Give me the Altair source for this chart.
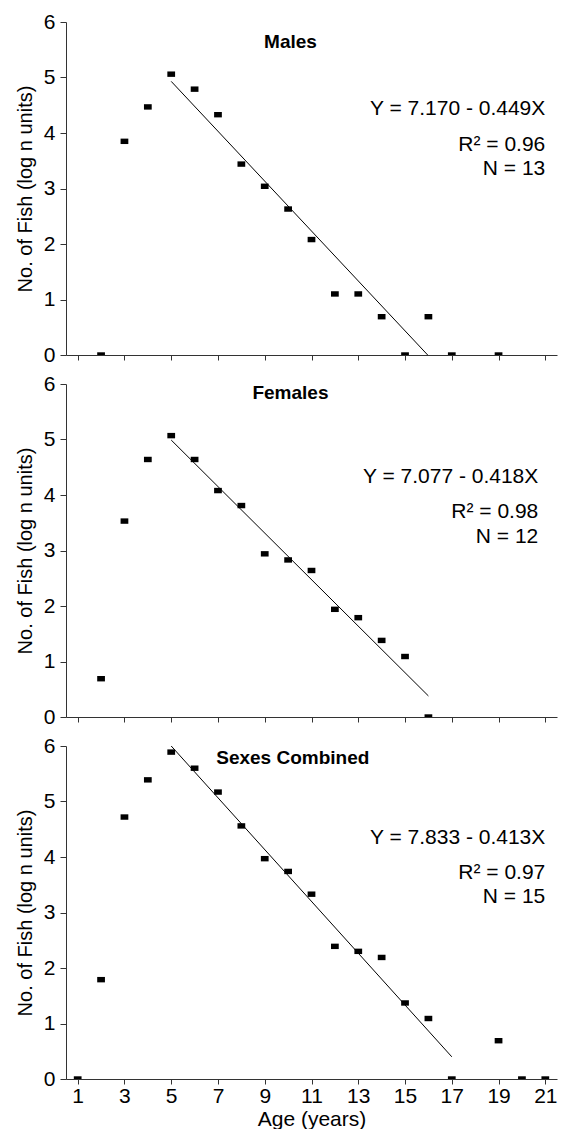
import altair as alt
import pandas as pd

# ---------------- data ----------------
male_ages = [2, 3, 4, 5, 6, 7, 8, 9, 10, 11, 12, 13, 14, 15, 16, 17, 19]
male_vals = [0, 3.85, 4.47, 5.06, 4.79, 4.33, 3.44, 3.04, 2.63, 2.08, 1.10, 1.10, 0.69, 0, 0.69, 0, 0]

female_ages = [2, 3, 4, 5, 6, 7, 8, 9, 10, 11, 12, 13, 14, 15, 16]
female_vals = [0.69, 3.53, 4.64, 5.07, 4.64, 4.08, 3.81, 2.94, 2.83, 2.64, 1.94, 1.79, 1.38, 1.09, 0]

comb_ages = [1, 2, 3, 4, 5, 6, 7, 8, 9, 10, 11, 12, 13, 14, 15, 16, 17, 19, 20, 21]
comb_vals = [0, 1.79, 4.72, 5.39, 5.89, 5.60, 5.17, 4.56, 3.97, 3.74, 3.33, 2.39, 2.30, 2.19, 1.37, 1.09, 0, 0.69, 0, 0]

# regression lines as drawn (start/end age, start/end value)
male_fit_x = [5, 15.97]
male_fit_y = [4.93, 0.0]
female_fit_x = [5, 16]
female_fit_y = [4.99, 0.38]
comb_fit_x = [5, 17]
comb_fit_y = [6.0, 0.40]

panel_titles = ["Males", "Females", "Sexes Combined"]
equations = ["Y = 7.170 - 0.449X", "Y = 7.077 - 0.418X", "Y = 7.833 - 0.413X"]
r2_texts = ["R\u00b2 = 0.96", "R\u00b2 = 0.98", "R\u00b2 = 0.97"]
n_texts = ["N = 13", "N = 12", "N = 15"]

x_ticks = list(range(1, 22))
y_ticks = [0, 1, 2, 3, 4, 5, 6]

# ---------------- layout (annotation anchors in data units) ----------------
title_x = [10.1, 10.1, 10.2]
title_y = [5.64, 5.83, 5.79]
stat_x = [21.0, 20.7, 21.0]
stat_y = [[4.44, 3.78, 3.35], [4.33, 3.70, 3.25], [4.35, 3.72, 3.28]]

FONT = "Liberation Sans"
W, H = 491, 333
XDOM = [0.5, 21.5]
YDOM = [0, 6]

square = "M-1,-0.7L1,-0.7L1,0.7L-1,0.7Z"


def panel(i, ages, vals, fx, fy, bottom):
    pts = pd.DataFrame({"age": ages, "val": vals})
    fit = pd.DataFrame({"age": fx, "val": fy})
    xaxis = alt.Axis(
        values=x_ticks,
        labels=bottom,
        labelExpr="datum.value % 2 == 1 ? datum.label : ''",
        title="Age (years)" if bottom else None,
        grid=False,
        tickSize=5,
        tickColor="#333",
        domainColor="#333",
        labelFontSize=21,
        labelFont=FONT,
        labelColor="black",
        labelPadding=1,
        titleFont=FONT,
        titleFontSize=21,
        titleFontWeight="normal",
        titleColor="black",
        titlePadding=2,
    )
    yaxis = alt.Axis(
        values=y_ticks,
        format="d",
        title="No. of Fish  (log n units)",
        grid=False,
        tickSize=6,
        tickColor="#333",
        domainColor="#333",
        labelFontSize=21,
        labelFont=FONT,
        labelColor="black",
        labelPadding=5,
        titleFont=FONT,
        titleFontSize=20,
        titleFontWeight="normal",
        titleColor="black",
        titlePadding=8,
    )
    xs = alt.Scale(domain=XDOM, nice=False, zero=False)
    ys = alt.Scale(domain=YDOM, nice=False)

    points = alt.Chart(pts).mark_point(
        shape=square, filled=True, color="black", size=60, opacity=1, clip=True
    ).encode(
        x=alt.X("age:Q", scale=xs, axis=xaxis),
        y=alt.Y("val:Q", scale=ys, axis=yaxis),
    )
    line = alt.Chart(fit).mark_line(color="black", strokeWidth=1).encode(
        x=alt.X("age:Q", scale=xs),
        y=alt.Y("val:Q", scale=ys),
    )
    tdf = pd.DataFrame({"age": [title_x[i]], "val": [title_y[i]], "t": [panel_titles[i]]})
    title = alt.Chart(tdf).mark_text(
        font=FONT, fontSize=19, fontWeight="bold", color="black", align="center", baseline="middle"
    ).encode(x=alt.X("age:Q", scale=xs), y=alt.Y("val:Q", scale=ys), text="t:N")
    sdf = pd.DataFrame({
        "age": [stat_x[i]] * 3,
        "val": stat_y[i],
        "t": [equations[i], r2_texts[i], n_texts[i]],
    })
    stats = alt.Chart(sdf).mark_text(
        font=FONT, fontSize=21, color="black", align="right", baseline="middle"
    ).encode(x=alt.X("age:Q", scale=xs), y=alt.Y("val:Q", scale=ys), text="t:N")
    return alt.layer(line, points, title, stats).properties(width=W, height=H)


chart = alt.vconcat(
    panel(0, male_ages, male_vals, male_fit_x, male_fit_y, False),
    panel(1, female_ages, female_vals, female_fit_x, female_fit_y, False),
    panel(2, comb_ages, comb_vals, comb_fit_x, comb_fit_y, True),
    spacing=29,
    bounds="flush",
).configure(
    padding={"left": 7, "top": 3, "right": 1, "bottom": 0},
    view=alt.ViewConfig(stroke=None),
)

chart.save("out.html", embed_options={"renderer": "svg", "actions": False})
